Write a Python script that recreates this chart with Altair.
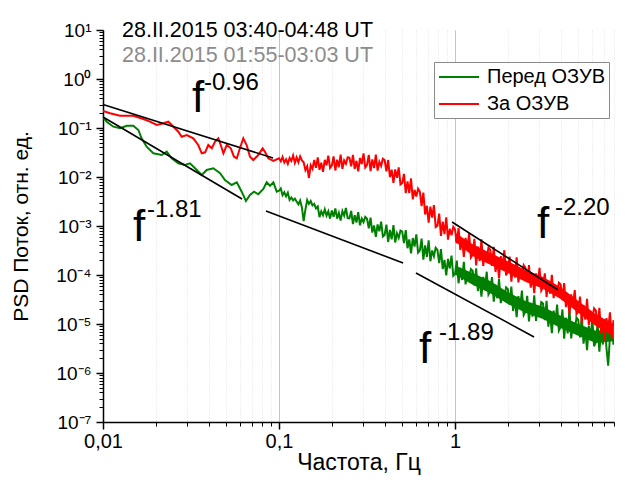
import altair as alt
import pandas as pd

FONT = "Liberation Sans"

# ---- spectra (log10 of frequency in Hz, log10 of PSD) ----
green_smooth_logf = [-2.000, -1.979, -1.941, -1.903, -1.865, -1.828, -1.799, -1.781, -1.752, -1.714,
                     -1.666, -1.638, -1.610, -1.572, -1.534, -1.506, -1.477, -1.439, -1.411, -1.373,
                     -1.335, -1.307, -1.269, -1.240, -1.212, -1.188, -1.165, -1.142, -1.118, -1.089,
                     -1.070, -1.051, -1.032, -1.013]
green_smooth_logp = [-0.776, -0.871, -0.973, -1.006, -0.953, -0.953, -1.041, -1.210, -1.381, -1.516,
                     -1.551, -1.484, -1.618, -1.720, -1.755, -1.720, -1.822, -1.959, -1.857, -1.822,
                     -1.924, -2.061, -2.163, -2.108, -2.300, -2.490, -2.367, -2.300, -2.353, -2.245,
                     -2.108, -2.178, -2.108, -2.300]

red_smooth_logf = [-2.000, -1.960, -1.903, -1.828, -1.771, -1.733, -1.695, -1.657, -1.629, -1.610,
                   -1.572, -1.553, -1.524, -1.487, -1.459, -1.439, -1.420, -1.402, -1.382, -1.364,
                   -1.345, -1.331, -1.316, -1.297, -1.274, -1.256, -1.240, -1.222, -1.203, -1.184,
                   -1.165, -1.146, -1.118, -1.093, -1.080, -1.061, -1.032]
red_smooth_logp = [-0.653, -0.700, -0.749, -0.749, -0.816, -0.871, -0.939, -0.904, -0.871, -0.939,
                   -1.076, -1.178, -1.143, -1.210, -1.347, -1.516, -1.496, -1.347, -1.414, -1.280,
                   -1.210, -1.347, -1.516, -1.347, -1.414, -1.586, -1.618, -1.414, -1.210, -1.347,
                   -1.586, -1.653, -1.551, -1.414, -1.484, -1.618, -1.673]

noisy_logf = [-1.00, -0.99, -0.98, -0.97, -0.96, -0.95, -0.94, -0.93, -0.92, -0.91,
              -0.90, -0.89, -0.88, -0.87, -0.86, -0.85, -0.84, -0.83, -0.82, -0.81,
              -0.80, -0.79, -0.78, -0.77, -0.76, -0.75, -0.74, -0.73, -0.72, -0.71,
              -0.70, -0.69, -0.68, -0.67, -0.66, -0.65, -0.64, -0.63, -0.62, -0.61,
              -0.60, -0.59, -0.58, -0.57, -0.56, -0.55, -0.54, -0.53, -0.52, -0.51,
              -0.50, -0.49, -0.48, -0.47, -0.46, -0.45, -0.44, -0.43, -0.42, -0.41,
              -0.40, -0.39, -0.38, -0.37, -0.36, -0.35, -0.34, -0.33, -0.32, -0.31,
              -0.30, -0.29, -0.28, -0.27, -0.26, -0.25, -0.24, -0.23, -0.22, -0.21,
              -0.20, -0.19, -0.18, -0.17, -0.16, -0.15, -0.14, -0.13, -0.12, -0.11,
              -0.10, -0.09, -0.08, -0.07, -0.06, -0.05, -0.04, -0.03, -0.02, -0.01,
              0.00, 0.01, 0.02, 0.03, 0.04, 0.05, 0.06, 0.07, 0.08, 0.09,
              0.10, 0.11, 0.12, 0.13, 0.14, 0.15, 0.16, 0.17, 0.18, 0.19,
              0.20, 0.21, 0.22, 0.23, 0.24, 0.25, 0.26, 0.27, 0.28, 0.29,
              0.30, 0.31, 0.32, 0.33, 0.34, 0.35, 0.36, 0.37, 0.38, 0.39,
              0.40, 0.41, 0.42, 0.43, 0.44, 0.45, 0.46, 0.47, 0.48, 0.49,
              0.50, 0.51, 0.52, 0.53, 0.54, 0.55, 0.56, 0.57, 0.58, 0.59,
              0.60, 0.61, 0.62, 0.63, 0.64, 0.65, 0.66, 0.67, 0.68, 0.69,
              0.70, 0.71, 0.72, 0.73, 0.74, 0.75, 0.76, 0.77, 0.78, 0.79,
              0.80, 0.81, 0.82, 0.83, 0.84, 0.85, 0.86, 0.87, 0.88, 0.89, 0.90]

red_noisy_logp = [-1.617, -1.679, -1.592, -1.703, -1.638, -1.733, -1.611, -1.671, -1.561, -1.711,
                  -1.600, -1.700, -1.580, -1.660, -1.700, -1.860, -1.780, -2.020, -1.760, -1.830,
                  -1.654, -1.814, -1.602, -1.854, -1.707, -1.895, -1.651, -1.760, -1.564, -1.816,
                  -1.765, -1.578, -1.867, -1.646, -1.799, -1.544, -1.833, -1.663, -1.731, -1.595,
                  -1.606, -1.784, -1.548, -1.834, -1.670, -1.884, -1.612, -1.736, -1.518, -1.804,
                  -1.751, -1.549, -1.880, -1.640, -1.819, -1.541, -1.871, -1.689, -1.772, -1.628,
                  -1.656, -1.885, -1.653, -2.002, -1.850, -2.119, -1.847, -2.016, -1.804, -2.153,
                  -2.121, -1.936, -2.328, -2.091, -2.326, -2.030, -2.455, -2.262, -2.396, -2.238,
                  -2.299, -2.596, -2.318, -2.765, -2.587, -2.934, -2.605, -2.827, -2.574, -3.021,
                  -2.993, -2.749, -3.204, -2.910, -3.165, -2.821, -3.277, -3.057, -3.188, -3.018,
                  -3.074, -3.353, -3.043, -3.490, -3.276, -3.632, -3.244, -3.467, -3.147, -3.640,
                  -3.583, -3.260, -3.806, -3.421, -3.718, -3.272, -3.817, -3.525, -3.668, -3.438,
                  -3.487, -3.813, -3.427, -3.939, -3.677, -4.065, -3.616, -3.850, -3.494, -4.007,
                  -3.924, -3.623, -4.135, -3.776, -4.055, -3.639, -4.150, -3.878, -4.013, -3.799,
                  -3.852, -4.146, -3.797, -4.259, -4.021, -4.372, -3.966, -4.176, -3.854, -4.317,
                  -4.244, -3.967, -4.447, -4.116, -4.380, -3.995, -4.474, -4.225, -4.353, -4.158,
                  -4.193, -4.512, -4.163, -4.656, -4.423, -4.800, -4.394, -4.625, -4.306, -4.798,
                  -4.743, -4.440, -4.976, -4.613, -4.909, -4.486, -5.022, -4.749, -4.895, -4.682,
                  -4.726, -5.066, -4.671, -5.203, -4.936, -5.340, -4.880, -5.125, -4.761, -5.294, -4.922]

green_noisy_logp = [-2.281, -2.234, -2.373, -2.312, -2.395, -2.320, -2.469, -2.419, -2.477, -2.441,
                    -2.500, -2.560, -2.480, -2.620, -2.900, -2.660, -2.470, -2.550, -2.490, -2.580,
                    -2.550, -2.640, -2.600, -2.820, -2.700, -2.780, -2.660, -2.790, -2.700, -2.850,
                    -2.682, -2.812, -2.643, -2.851, -2.734, -2.890, -2.695, -2.786, -2.630, -2.838,
                    -2.845, -2.693, -2.962, -2.780, -2.928, -2.717, -2.985, -2.848, -2.922, -2.815,
                    -2.851, -3.047, -2.830, -3.134, -2.988, -3.221, -2.967, -3.109, -2.910, -3.214,
                    -3.182, -2.974, -3.327, -3.079, -3.271, -2.984, -3.336, -3.148, -3.241, -3.093,
                    -3.113, -3.351, -3.084, -3.454, -3.275, -3.557, -3.245, -3.418, -3.172, -3.543,
                    -3.501, -3.257, -3.686, -3.394, -3.631, -3.291, -3.719, -3.500, -3.616, -3.445,
                    -3.489, -3.756, -3.470, -3.881, -3.691, -4.006, -3.672, -3.867, -3.605, -4.016,
                    -3.976, -3.708, -4.169, -3.849, -4.102, -3.730, -4.191, -3.949, -4.071, -3.882,
                    -3.914, -4.210, -3.863, -4.327, -4.091, -4.444, -4.040, -4.252, -3.933, -4.397,
                    -4.329, -4.043, -4.542, -4.200, -4.475, -4.077, -4.575, -4.318, -4.452, -4.251,
                    -4.289, -4.607, -4.236, -4.734, -4.483, -4.861, -4.430, -4.658, -4.316, -4.815,
                    -4.743, -4.425, -4.948, -4.570, -4.852, -4.415, -4.937, -4.649, -4.782, -4.554,
                    -4.584, -4.922, -4.525, -5.055, -4.785, -5.188, -4.726, -4.968, -4.603, -5.133,
                    -5.061, -4.703, -5.298, -4.872, -5.194, -4.701, -5.295, -4.971, -5.124, -4.868,
                    -4.918, -5.272, -4.844, -5.403, -5.111, -5.533, -5.038, -5.290, -4.896, -5.455,
                    -5.367, -4.989, -5.563, -5.117, -5.419, -4.905, -5.478, -5.850, -5.266, -4.990, -5.424]

# dense core of the noisy band at high frequency (log10 values)
band_logf = [0.0, 0.1, 0.2, 0.3, 0.4, 0.5, 0.6, 0.7, 0.8, 0.9]
red_band_hi = [-3.14, -3.37, -3.55, -3.72, -3.90, -4.04, -4.25, -4.53, -4.80, -5.00]
red_band_lo = [-3.31, -3.61, -3.79, -3.96, -4.14, -4.28, -4.49, -4.77, -5.04, -5.24]
green_band_hi = [-3.81, -3.96, -4.12, -4.35, -4.53, -4.65, -4.83, -5.00, -5.14, -5.10]
green_band_lo = [-3.99, -4.20, -4.37, -4.59, -4.77, -4.90, -5.08, -5.24, -5.39, -5.35]

# power-law fits (segment endpoints, log10 values)
fit_name = ["a", "a", "b", "b", "c", "c", "d", "d", "e", "e"]
fit_logf = [-2.000, -1.034, -2.000, -1.210, -1.074, -0.295, -0.222, 0.449, -0.017, 0.585]
fit_logp = [-0.520, -1.612, -0.776, -2.449, -2.694, -3.755, -3.959, -5.265, -2.918, -4.306]

# annotations
note_text = ["28.II.2015 03:40-04:48 UT", "28.II.2015 01:55-03:03 UT",
             "f", "-0.96", "f", "-1.81", "f", "-2.20", "f", "-1.89"]
note_logf = [-1.892, -1.892, -1.494, -1.426, -1.830, -1.750, 0.466, 0.568, -0.205, -0.091]
note_logp = [0.857, 0.347, -0.673, -0.224, -3.306, -2.816, -3.245, -2.776, -5.796, -5.327]
note_size = [21.5, 21.5, 44, 24, 44, 24, 44, 24, 44, 24]
note_color = ["#000000", "#8c8c8c", "#000000", "#000000", "#000000", "#000000",
              "#000000", "#000000", "#000000", "#000000"]

series_names = ["Перед ОЗУВ", "За ОЗУВ"]
series_colors = ["#008000", "#ff0000"]

x_major = [0.01, 0.1, 1]
x_minor = [0.02, 0.03, 0.04, 0.05, 0.06, 0.07, 0.08, 0.09,
           0.2, 0.3, 0.4, 0.5, 0.6, 0.7, 0.8, 0.9, 2, 3, 4, 5, 6, 7, 8]
y_major = [1e-7, 1e-6, 1e-5, 1e-4, 1e-3, 1e-2, 1e-1, 1, 10]
y_minor = [m * d for d in [1e-7, 1e-6, 1e-5, 1e-4, 1e-3, 1e-2, 1e-1, 1] for m in range(2, 10)]

# ---- tables ----
g_logf = green_smooth_logf + noisy_logf
g_logp = green_smooth_logp + green_noisy_logp
r_logf = red_smooth_logf + noisy_logf
r_logp = red_smooth_logp + red_noisy_logp
lines = pd.DataFrame({
    "logf": g_logf + r_logf,
    "logp": g_logp + r_logp,
    "series": [series_names[0]] * len(g_logf) + [series_names[1]] * len(r_logf),
})
lines["f"] = 10 ** lines["logf"]
lines["p"] = 10 ** lines["logp"]
lines["i"] = range(len(lines))

bands = pd.DataFrame({
    "f": [10 ** v for v in band_logf] * 2,
    "hi": [10 ** v for v in green_band_hi + red_band_hi],
    "lo": [10 ** v for v in green_band_lo + red_band_lo],
    "series": [series_names[0]] * len(band_logf) + [series_names[1]] * len(band_logf),
})

fits = pd.DataFrame({"name": fit_name,
                     "f": [10 ** v for v in fit_logf],
                     "p": [10 ** v for v in fit_logp]})

notes = pd.DataFrame({"text": note_text,
                      "f": [10 ** v for v in note_logf],
                      "p": [10 ** v for v in note_logp],
                      "size": note_size, "color": note_color})

xs = alt.Scale(type="log", domain=[0.01, 8.0], nice=False)
ys = alt.Scale(type="log", domain=[1e-7, 10], nice=False)
cs = alt.Scale(domain=series_names, range=series_colors)

sup = "['⁰','¹','²','³','⁴','⁵','⁶','⁷','⁸','⁹']"
y_label_expr = ("'10' + (datum.value < 0.5 ? '⁻' : '') + " + sup +
                "[abs(round(log(datum.value) / LN10))]")

ax_x_major = alt.Axis(values=x_major, orient="bottom", title="Частота, Гц",
                      labelExpr="replace(toString(datum.value), '.', ',')",
                      grid=True, gridColor="#c4c4c4", gridWidth=1,
                      domainColor="black", domainWidth=1.5, tickColor="black",
                      tickWidth=1.5, tickSize=7, labelFont=FONT, labelFontSize=20,
                      labelColor="black", labelPadding=2, labelFlush=False,
                      titleFont=FONT, titleFontSize=23, titleFontWeight="normal",
                      titleColor="black", titlePadding=0)
ax_x_minor = alt.Axis(values=x_minor, orient="bottom", title=None, labels=False,
                      domain=False, grid=True, gridColor="#e2e2e2", gridDash=[1, 2],
                      gridWidth=1, tickColor="black", tickWidth=1, tickSize=4)
ax_y_major = alt.Axis(values=y_major, orient="left", title="PSD Поток, отн. ед.",
                      labelExpr=y_label_expr, grid=False,
                      domainColor="black", domainWidth=1.5, tickColor="black",
                      tickWidth=1.5, tickSize=7, labelFont=FONT, labelFontSize=19,
                      labelColor="black", labelPadding=5, labelFlush=False,
                      titleFont=FONT, titleFontSize=21, titleFontWeight="normal",
                      titleColor="black", titlePadding=24)
ax_y_minor = alt.Axis(values=y_minor, orient="left", title=None, labels=False,
                      domain=False, grid=False, tickColor="black", tickWidth=1,
                      tickSize=4)

legend = alt.Legend(orient="none", legendX=331, legendY=32, title=None,
                    symbolType="M-1,0H3", symbolSize=400, symbolStrokeWidth=2,
                    labelFont=FONT, labelFontSize=20, labelColor="black",
                    labelOffset=27, strokeColor="#8a8a8a", fillColor="white",
                    padding=4, rowPadding=6)


def band_layer(name, color):
    return alt.Chart(bands).transform_filter(
        alt.datum.series == name
    ).mark_area(color=color, opacity=1, clip=True).encode(
        x=alt.X("f:Q", scale=xs, axis=None),
        y=alt.Y("hi:Q", scale=ys, axis=None),
        y2="lo:Q",
    )


def line_layer(name, xaxis, yaxis):
    return alt.Chart(lines).transform_filter(
        alt.datum.series == name
    ).mark_line(strokeWidth=2, clip=True).encode(
        x=alt.X("f:Q", scale=xs, axis=xaxis),
        y=alt.Y("p:Q", scale=ys, axis=yaxis),
        color=alt.Color("series:N", scale=cs, legend=legend, sort=series_names),
        order="i:Q",
    )


fit_layer = alt.Chart(fits).mark_line(color="black", strokeWidth=1.6).encode(
    x=alt.X("f:Q", scale=xs, axis=None),
    y=alt.Y("p:Q", scale=ys, axis=None),
    detail="name:N",
)

note_layer = alt.Chart(notes).mark_text(align="left", baseline="alphabetic",
                                         font=FONT).encode(
    x=alt.X("f:Q", scale=xs, axis=None),
    y=alt.Y("p:Q", scale=ys, axis=None),
    text="text:N",
    size=alt.Size("size:Q", scale=None),
    color=alt.Color("color:N", scale=None),
)

chart = alt.layer(
    band_layer(series_names[0], series_colors[0]),
    line_layer(series_names[0], ax_x_major, ax_y_major),
    band_layer(series_names[1], series_colors[1]),
    line_layer(series_names[1], ax_x_minor, ax_y_minor),
    fit_layer,
    note_layer,
).resolve_axis(
    x="independent", y="independent"
).properties(
    width=511, height=392,
    autosize=alt.AutoSizeParams(type="none"),
    padding={"left": 95, "top": 22, "right": 3, "bottom": 53},
    background="white",
).configure_view(stroke=None)

chart.save("out.html", embed_options={"renderer": "svg", "actions": False})
